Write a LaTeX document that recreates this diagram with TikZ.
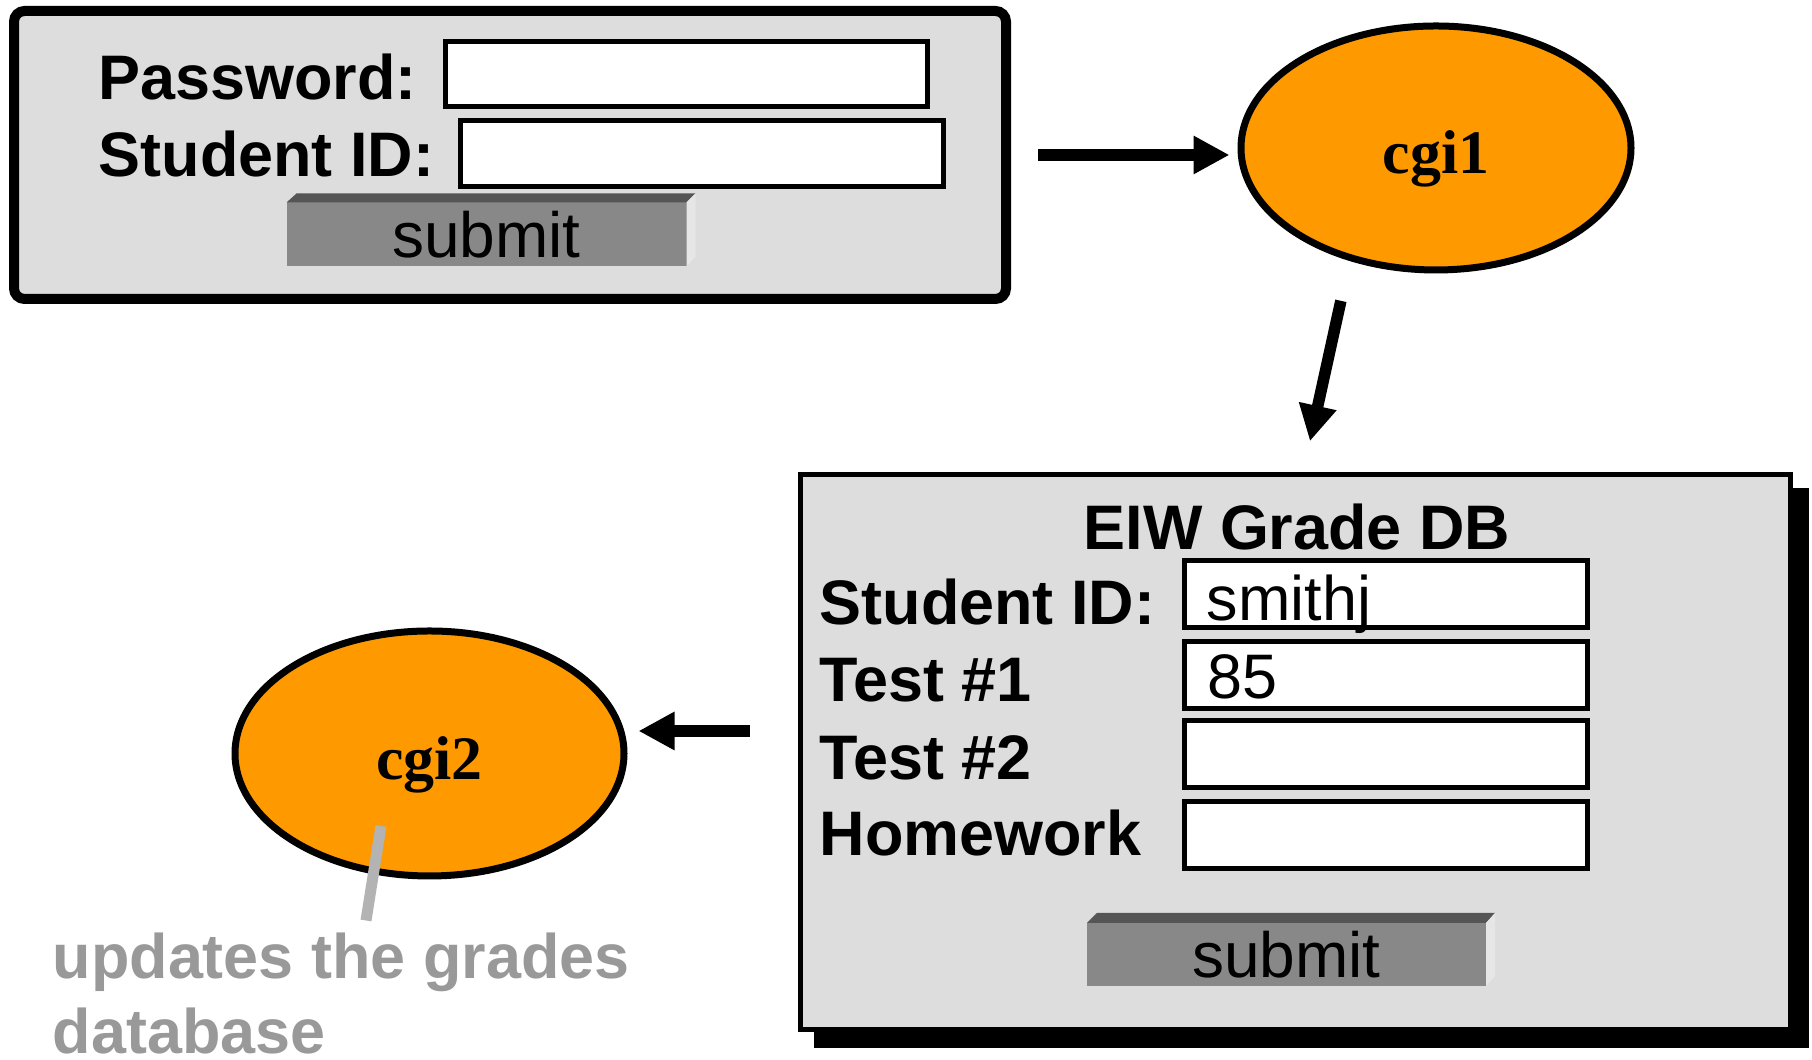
\documentclass[tikz,border=0pt]{standalone}
\usepackage{fontspec}
\setmainfont{Liberation Sans}
\newfontfamily\cgifont{Liberation Serif}
\usepackage{tikz}
\usetikzlibrary{shapes, arrows.meta, positioning, backgrounds}
\definecolor{myorange}{RGB}{255, 153, 0}
\definecolor{mypanel}{RGB}{221, 221, 221}
\definecolor{mybutton}{RGB}{136, 136, 136}
\definecolor{mybevel}{RGB}{85, 85, 85}
\definecolor{myedge}{RGB}{230, 230, 230}
\definecolor{mynote}{RGB}{153, 153, 153}
\definecolor{mystem}{RGB}{179, 179, 179}

\begin{document}
\begin{tikzpicture}[
  lbl/.style={font=\fontsize{17.9}{21.3}\selectfont\bfseries, anchor=base west, inner sep=0pt},
  val/.style={font=\fontsize{17.9}{21.3}\selectfont, anchor=base west, inner sep=0pt},
  field/.style={draw, line width=0.05cm, fill=white, inner sep=0pt},
  btn/.style={fill=mybutton, inner sep=0pt, outer sep=0pt, minimum height=0.64cm, font=\fontsize{18.2}{21.3}\selectfont},
  cgi/.style={ellipse, draw, line width=0.07cm, fill=myorange, inner sep=0pt, text height=0.52cm, text depth=0pt, minimum width=3.9cm, minimum height=2.44cm, font=\fontsize{17.6}{20}\selectfont\cgifont\bfseries},
  flow/.style={line width=0.115cm, -{Triangle[length=0.36cm, width=0.36cm]}},
  stem/.style={mystem, line width=0.11cm}
]
\useasboundingbox (0,0) rectangle (18.12,10.60);

% login form
\node[draw, rounded corners=3pt, line width=0.1cm, fill=mypanel, minimum width=9.92cm, minimum height=2.88cm] (login) at (5.10, 9.05) {};
\node[lbl] (pwlbl) at (0.98, 9.60) {Password:};
\node[lbl] (idlbl) at (0.98, 8.83) {Student ID:};
\node[field, minimum width=4.82cm, minimum height=0.65cm] (pw) at (6.86, 9.855) {};
\node[field, minimum width=4.83cm, minimum height=0.66cm] (sid) at (7.015, 9.06) {};
\node[btn, minimum width=4cm] (send1) at (4.865, 8.255) {submit};
\fill[mybevel] (send1.north west) -- ++(0.1,0.09) -- ([shift={(0.09,0.09)}]send1.north east) -- (send1.north east) -- cycle;
\fill[myedge] (send1.north east) -- ++(0.09,0.09) -- ([shift={(0.09,0.10)}]send1.south east) -- (send1.south east) -- cycle;

% scripts
\node[cgi] (cgi1) at (14.36, 9.12) {cgi1};
\node[cgi, minimum width=3.89cm, minimum height=2.45cm] (cgi2) at (4.295, 3.065) {cgi2};

% grade form
\node[draw, line width=0.05cm, fill=mypanel, minimum width=9.90cm, minimum height=5.55cm] (grades) at (12.95, 3.075) {};
\begin{scope}[on background layer]
  \fill ([shift={(0.16,-0.16)}]grades.south west) rectangle ([shift={(0.16,-0.16)}]grades.north east);
\end{scope}
\node[lbl, anchor=base] (title) at (12.97, 5.10) {EIW Grade DB};
\node[lbl] (idlbl2) at (8.19, 4.35) {Student ID:};
\node[lbl] (t1lbl) at (8.19, 3.58) {Test \#1};
\node[lbl] (t2lbl) at (8.19, 2.80) {Test \#2};
\node[lbl] (hwlbl) at (8.19, 2.04) {Homework};
\node[field, minimum width=4.03cm, minimum height=0.67cm] (sid2) at (13.855, 4.655) {};
\node[field, minimum width=4.03cm, minimum height=0.67cm] (t1) at (13.855, 3.845) {};
\node[field, minimum width=4.03cm, minimum height=0.67cm] (t2) at (13.855, 3.055) {};
\node[field, minimum width=4.03cm, minimum height=0.67cm] (hw) at (13.855, 2.245) {};
\node[val] (sidval) at (12.06, 4.39) {smithj};
\node[val] (t1val) at (12.07, 3.61) {85};
\node[btn, minimum width=3.99cm, minimum height=0.63cm] (send2) at (12.865, 1.055) {submit};
\fill[mybevel] (send2.north west) -- ++(0.1,0.10) -- ([shift={(0.09,0.10)}]send2.north east) -- (send2.north east) -- cycle;
\fill[myedge] (send2.north east) -- ++(0.09,0.10) -- ([shift={(0.09,0.10)}]send2.south east) -- (send2.south east) -- cycle;

% flow
\draw[flow, shorten <=0.27cm, shorten >=0.08cm] (login.east) -- (login.east -| cgi1.west);
\draw[flow, shorten <=0.28cm, shorten >=0.32cm] ([xshift=-0.891cm]cgi1.south) -- ([xshift=0.081cm]grades.north);
\draw[flow, shorten <=0.475cm, shorten >=0.11cm] ([yshift=0.215cm]grades.west) -- ([yshift=0.215cm]grades.west -| cgi2.east);

% note
\node[font=\fontsize{17.9}{21.3}\selectfont\bfseries, text=mynote, align=left, anchor=north west, inner sep=0pt] (note) at (0.52, 1.275) {updates the grades\\database};
\draw[stem] ([shift={(-0.485,-0.725)}]cgi2.center) -- ([shift={(3.14,0.12)}]note.north west);
\end{tikzpicture}
\end{document}
